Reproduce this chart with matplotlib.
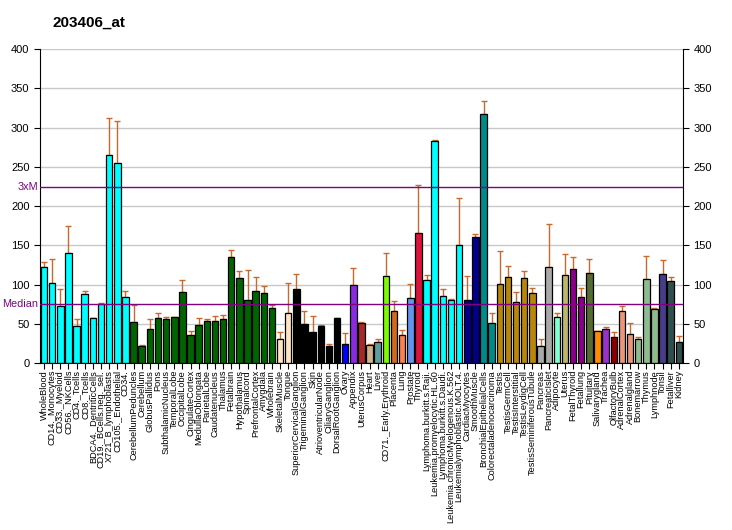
import numpy as np
import matplotlib
matplotlib.use("Agg")
import matplotlib.pyplot as plt
from matplotlib.transforms import offset_copy

plt.rcParams['font.family'] = ['Liberation Sans', 'DejaVu Sans']

TITLE = "203406_at"

tissues = [
    "WholeBlood", "CD14._Monocytes", "CD33._Myeloid", "CD56._NKCells", "CD4._Tcells",
    "CD8._Tcells", "BDCA4._DentriticCells", "CD19._BCells.neg._sel.", "X721_B_lymphoblasts",
    "CD105._Endothelial", "CD34.", "CerebellumPeduncles", "Cerebellum", "GlobusPallidus",
    "Pons", "SubthalamicNucleus", "TemporalLobe", "OccipitalLobe", "CingulateCortex",
    "MedullaOblongata", "ParietalLobe", "Caudatenucleus", "Thalamus", "Fetalbrain",
    "Hypothalamus", "Spinalcord", "PrefrontalCortex", "Amygdala", "Wholebrain",
    "SkeletalMuscle", "Tongue", "SuperiorCervicalGanglion", "TrigeminalGanglion", "Skin",
    "AtrioventricularNode", "CiliaryGanglion", "DorsalRootGanglion", "Ovary", "Appendix",
    "UterusCorpus", "Heart", "Liver", "CD71._Early.Erythroid", "Placenta", "Lung",
    "Prostate", "Thyroid", "Lymphoma.burkitt.s.Raji.", "Leukemia.promyelocytic.HL.60",
    "Lymphoma.burkitt.s.Daudi.", "Leukemia.chronicMyelogenous.K.562",
    "Leukemialymphoblastic.MOLT.4.", "CardiacMyocytes", "SmoothMuscle",
    "BronchialEpithelialCells", "Colorectaladenocarcinoma", "Testis", "TestisGermCell",
    "TestisInterstitial", "TestisLeydigCell", "TestisSeminiferousTubule", "Pancreas",
    "PancreaticIslet", "Adipocyte", "Uterus", "FetalThyroid", "Fetallung", "Pituitary",
    "Salivarygland", "Trachea", "OlfactoryBulb", "AdrenalCortex", "Adrenalgland",
    "Bonemarrow", "Thymus", "Lymphnode", "Tonsil", "Fetalliver", "Kidney",
]

values = [
    122, 102, 73, 140, 47, 88, 57, 75, 265, 255, 84,
    52, 22, 43, 57, 56, 59, 90, 36, 48, 53, 53, 56, 135, 108, 80, 92, 89, 70,
    31, 64, 94, 50, 40, 47, 22, 57, 24, 99, 51, 23, 27, 111, 66, 36, 83, 166,
    106, 283, 85, 80, 150, 80, 160, 317, 51, 101, 110, 78, 108, 89, 22, 122,
    59, 112, 120, 84, 115, 41, 43, 33, 66, 37, 31, 107, 69, 113, 105, 27,
]

err_top = [
    129, 133, 94, 174, 56, 92, 57, 76, 312, 308, 92,
    74, 23, 56, 64, 59, 59, 106, 41, 57, 56, 60, 61, 144, 117, 118, 110, 98, 74,
    40, 102, 113, 66, 60, 48, 24, 57, 38, 121, 52, 24, 31, 140, 79, 42, 101, 227,
    112, 284, 94, 82, 210, 111, 164, 334, 64, 143, 124, 90, 117, 96, 31, 177,
    64, 139, 135, 96, 133, 41, 46, 40, 73, 51, 33, 136, 70, 131, 110, 34,
]

# colour per tissue group
groups = [
    ("#00FFFF", 11), ("#006400", 18), ("#FFE4C4", 2), ("#000000", 6), ("#0000FF", 1),
    ("#8A2BE2", 1), ("#A52A2A", 1), ("#D2B48C", 1), ("#5F9EA0", 1), ("#7CFC00", 1),
    ("#D2691E", 1), ("#FF7F50", 1), ("#6495ED", 1), ("#DC143C", 1), ("#00FFFF", 5),
    ("#00008B", 2), ("#008B8B", 2), ("#B8860B", 5), ("#A9A9A9", 2), ("#7FFFD4", 1),
    ("#BDB76B", 1), ("#8B008B", 2), ("#556B2F", 1), ("#FF8C00", 1), ("#9932CC", 1),
    ("#8B0000", 1), ("#E9967A", 2), ("#8FBC8F", 3), ("#483D8B", 1), ("#2F4F4F", 2),
]
colors = []
for c, n in groups:
    colors += [c] * n

median = 74.7
three_m = 224.2

fig = plt.figure(figsize=(7.32, 5.30), dpi=100)
ax = fig.add_axes([0.0546, 0.315, 0.8784, 0.5925])

x = np.arange(len(tissues))
vals = np.array(values)
errs = np.array(err_top) - vals

for y in range(50, 401, 50):
    ax.axhline(y, color="#c8c8c8", lw=1, zorder=0)

ax.bar(x, vals, width=0.8, color=colors, edgecolor="black", linewidth=0.9, zorder=2)
ax.errorbar(x, vals, yerr=[np.zeros_like(errs), errs], fmt="none",
            ecolor="#c8692d", elinewidth=1, capsize=2.5, capthick=1, zorder=1)

ax.axhline(median, color="#800080", lw=1, zorder=3)
ax.axhline(three_m, color="#800080", lw=1, zorder=3)

ax.set_xlim(-0.5, len(tissues) - 0.5)
ax.set_ylim(0, 400)
ax.set_yticks(range(0, 401, 50))
ax.tick_params(axis="y", labelsize=8, length=4, right=True, labelright=True)
ax.set_xticks(x)
ax.set_xticklabels(tissues, rotation=90, fontsize=6.6)
ax.tick_params(axis="x", length=4, pad=1)
ax.spines["top"].set_visible(False)

lab_tr = offset_copy(ax.get_yaxis_transform(), fig=fig, x=-1.5, units="points")
ax.text(0, median, "Median", color="#800080", fontsize=7.8,
        ha="right", va="center", transform=lab_tr)
ax.text(0, three_m, "3xM", color="#800080", fontsize=7.8,
        ha="right", va="center", transform=lab_tr)

fig.text(0.072, 0.958, TITLE, fontsize=11, fontweight="bold", ha="left", va="center")

fig.savefig("out.png", dpi=100)
